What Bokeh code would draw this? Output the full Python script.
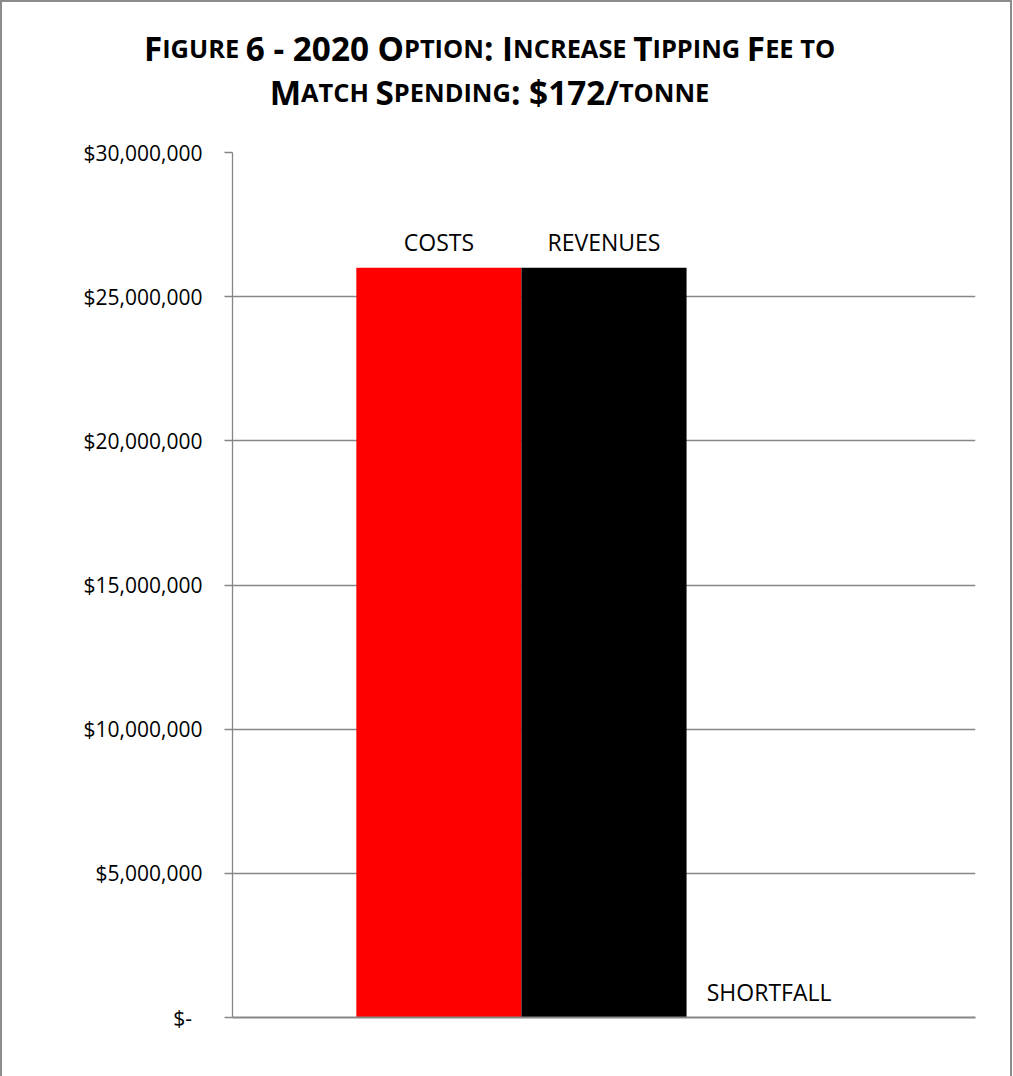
import glob
import os
import struct

from bokeh.core.properties import value
from bokeh.embed import file_html
from bokeh.models import (ColumnDataSource, CustomJSTickFormatter, FixedTicker,
                          Range1d)
from bokeh.plotting import figure
from bokeh.resources import INLINE

# ---------------- data ----------------
categories = ["COSTS", "REVENUES", "SHORTFALL"]
amounts = [26000000, 26000000, 0]
bar_colors = ["#FF0000", "#000000", "#7F7F7F"]
y_ticks = [0, 5000000, 10000000, 15000000, 20000000, 25000000, 30000000]
title_lines = ["Figure 6 - 2020 Option: Increase Tipping Fee to",
               "Match Spending: $172/tonne"]

# ---------------- layout constants ----------------
W = 1012
TH = 130                 # title strip height
H = 1076 - TH            # chart height
FL, FR, FT = 230, 39, 22
FH = 865
FB = H - FT - FH
GAP = 1.5                # Excel gap width 150 %
n = len(categories)
X_LO, X_HI = 0.0, n + GAP
Y_LO, Y_HI = 0.0, 30000000.0
GRID = "#868686"
BORDER = "2px solid #8c8c8c"

TITLE_FONT = "Open Sans"
BIG_PX = 33.3
SMALL_PX = 25.4
TITLE_CX = 487.0
BASELINES = [45.5, 89.5]


# ---------------- font metrics (for the small caps title) ----------------
def load_widths(path):
    data = open(path, "rb").read()
    num = struct.unpack(">H", data[4:6])[0]
    tables = {}
    for i in range(num):
        tag, _cs, off, _ln = struct.unpack(">4sIII", data[12 + 16 * i:28 + 16 * i])
        tables[tag.decode("latin1")] = off
    ho = tables["head"]
    upm = struct.unpack(">H", data[ho + 18:ho + 20])[0]
    hh = tables["hhea"]
    nhm = struct.unpack(">H", data[hh + 34:hh + 36])[0]
    hm = tables["hmtx"]
    adv = [struct.unpack(">H", data[hm + 4 * i:hm + 4 * i + 2])[0] for i in range(nhm)]
    co = tables["cmap"]
    nsub = struct.unpack(">H", data[co + 2:co + 4])[0]
    cmap = {}
    for i in range(nsub):
        pid, _eid, soff = struct.unpack(">HHI", data[co + 4 + 8 * i:co + 12 + 8 * i])
        st = co + soff
        fmt = struct.unpack(">H", data[st:st + 2])[0]
        if fmt == 4 and pid in (0, 3) and not cmap:
            segx2 = struct.unpack(">H", data[st + 6:st + 8])[0]
            seg = segx2 // 2
            ends = struct.unpack(">%dH" % seg, data[st + 14:st + 14 + segx2])
            starts = struct.unpack(">%dH" % seg, data[st + 16 + segx2:st + 16 + 2 * segx2])
            deltas = struct.unpack(">%dh" % seg, data[st + 16 + 2 * segx2:st + 16 + 3 * segx2])
            rpos = st + 16 + 3 * segx2
            roffs = struct.unpack(">%dH" % seg, data[rpos:rpos + segx2])
            for s in range(seg):
                for c in range(starts[s], min(ends[s], 0x7E) + 1):
                    if roffs[s] == 0:
                        g = (c + deltas[s]) & 0xFFFF
                    else:
                        a = rpos + 2 * s + roffs[s] + 2 * (c - starts[s])
                        g = struct.unpack(">H", data[a:a + 2])[0]
                        if g:
                            g = (g + deltas[s]) & 0xFFFF
                    cmap[c] = g
    return {chr(c): adv[min(g, nhm - 1)] / upm for c, g in cmap.items()}


def find_font(name):
    for d in ["/usr/share/fonts", "/usr/local/share/fonts"]:
        for f in glob.glob(os.path.join(d, "**", "*.ttf"), recursive=True):
            if os.path.basename(f).lower() == name.lower():
                return f
    return None


FALLBACK = {ch: 0.68 for ch in "ABCDEFGHIJKLMNOPQRSTUVWXYZ"}
FALLBACK.update({"I": 0.33, "M": 0.94, "W": 0.98, " ": 0.26, ":": 0.285, "-": 0.32,
                 "/": 0.41, "$": 0.57})
FALLBACK.update({ch: 0.57 for ch in "0123456789"})

widths = FALLBACK
try:
    fp = find_font("OpenSans-Bold.ttf")
    if fp:
        widths = load_widths(fp)
except Exception:
    widths = FALLBACK


def text_w(s, px):
    return sum(widths.get(c, 0.6) for c in s) * px


def smallcaps_runs(s):
    runs = []
    for ch in s:
        small = ch.islower()
        if ch == " " and runs:
            small = runs[-1][1]
        if runs and runs[-1][1] == small:
            runs[-1][0] += ch.upper()
        else:
            runs.append([ch.upper(), small])
    return runs


# ---------------- title strip (separate root, frame = whole canvas) ----------------
t = figure(width=W, height=TH, x_range=Range1d(0, W), y_range=Range1d(TH, 0),
           x_axis_type=None, y_axis_type=None, output_backend="svg",
           toolbar_location=None, min_border=0)
t.outline_line_color = None
t.grid.visible = False
t.background_fill_color = "white"
t.border_fill_color = "white"
t.styles = {"border-left": BORDER, "border-top": BORDER, "border-right": BORDER}

tx, ty, tt, ts = [], [], [], []
for line, base in zip(title_lines, BASELINES):
    runs = smallcaps_runs(line)
    total = sum(text_w(r, SMALL_PX if sm else BIG_PX) for r, sm in runs)
    cur = TITLE_CX - total / 2.0
    for r, sm in runs:
        size = SMALL_PX if sm else BIG_PX
        lead = len(r) - len(r.lstrip(" "))
        shown = r.strip(" ")
        if shown:
            tx.append(cur + text_w(" " * lead, size))
            ty.append(base)
            tt.append(shown)
            ts.append("%.2fpx" % size)
        cur += text_w(r, size)

tsrc = ColumnDataSource(dict(x=tx, y=ty, text=tt, size=ts))
t.text(x="x", y="y", text="text", source=tsrc, text_align="left",
       text_baseline="alphabetic", text_font=value(TITLE_FONT), text_font_style="bold",
       text_font_size="size", text_color="#000000")

# ---------------- chart ----------------
p = figure(width=W, height=H, x_range=Range1d(X_LO, X_HI), y_range=Range1d(Y_LO, Y_HI),
           output_backend="svg", toolbar_location=None,
           min_border_left=FL, min_border_right=FR, min_border_top=FT, min_border_bottom=FB)
p.styles = {"border-left": BORDER, "border-right": BORDER}
p.outline_line_color = None
p.background_fill_color = "white"
p.border_fill_color = "white"

p.xgrid.visible = False
p.ygrid.ticker = FixedTicker(ticks=y_ticks)
p.ygrid.grid_line_color = GRID
p.ygrid.grid_line_width = 1.3

p.yaxis.ticker = FixedTicker(ticks=y_ticks)
p.yaxis.formatter = CustomJSTickFormatter(code="""
if (tick == 0) { return '$-\\u2002'; }
return '$' + Math.round(tick).toString().replace(/\\B(?=(\\d{3})+(?!\\d))/g, ',');
""")
p.yaxis.axis_line_color = GRID
p.yaxis.axis_line_width = 1.3
p.yaxis.major_tick_line_color = GRID
p.yaxis.major_tick_line_width = 1.3
p.yaxis.major_tick_out = 8
p.yaxis.major_tick_in = 0
p.yaxis.minor_tick_line_color = None
p.yaxis.major_label_standoff = 22
p.yaxis.major_label_text_font = "Open Sans"
p.yaxis.major_label_text_font_size = "21px"
p.yaxis.major_label_text_color = "#000000"

p.xaxis.ticker = FixedTicker(ticks=[])
p.xaxis.axis_line_color = GRID
p.xaxis.axis_line_width = 2
p.xaxis.major_tick_line_color = None
p.xaxis.minor_tick_line_color = None
p.xaxis.major_label_text_font_size = "0px"

xs = [GAP / 2 + i + 0.5 for i in range(n)]
src = ColumnDataSource(dict(x=xs, top=amounts, color=bar_colors, label=categories))
p.vbar(x="x", top="top", bottom=0, width=1.0, fill_color="color", line_color=None, source=src)
p.text(x="x", y="top", text="label", source=src, text_align="center", text_baseline="middle",
       y_offset=-26, text_font=value("Open Sans"), text_font_size=value("23px"),
       text_color="#000000")

open("out.html", "w").write(file_html([t, p], INLINE))
